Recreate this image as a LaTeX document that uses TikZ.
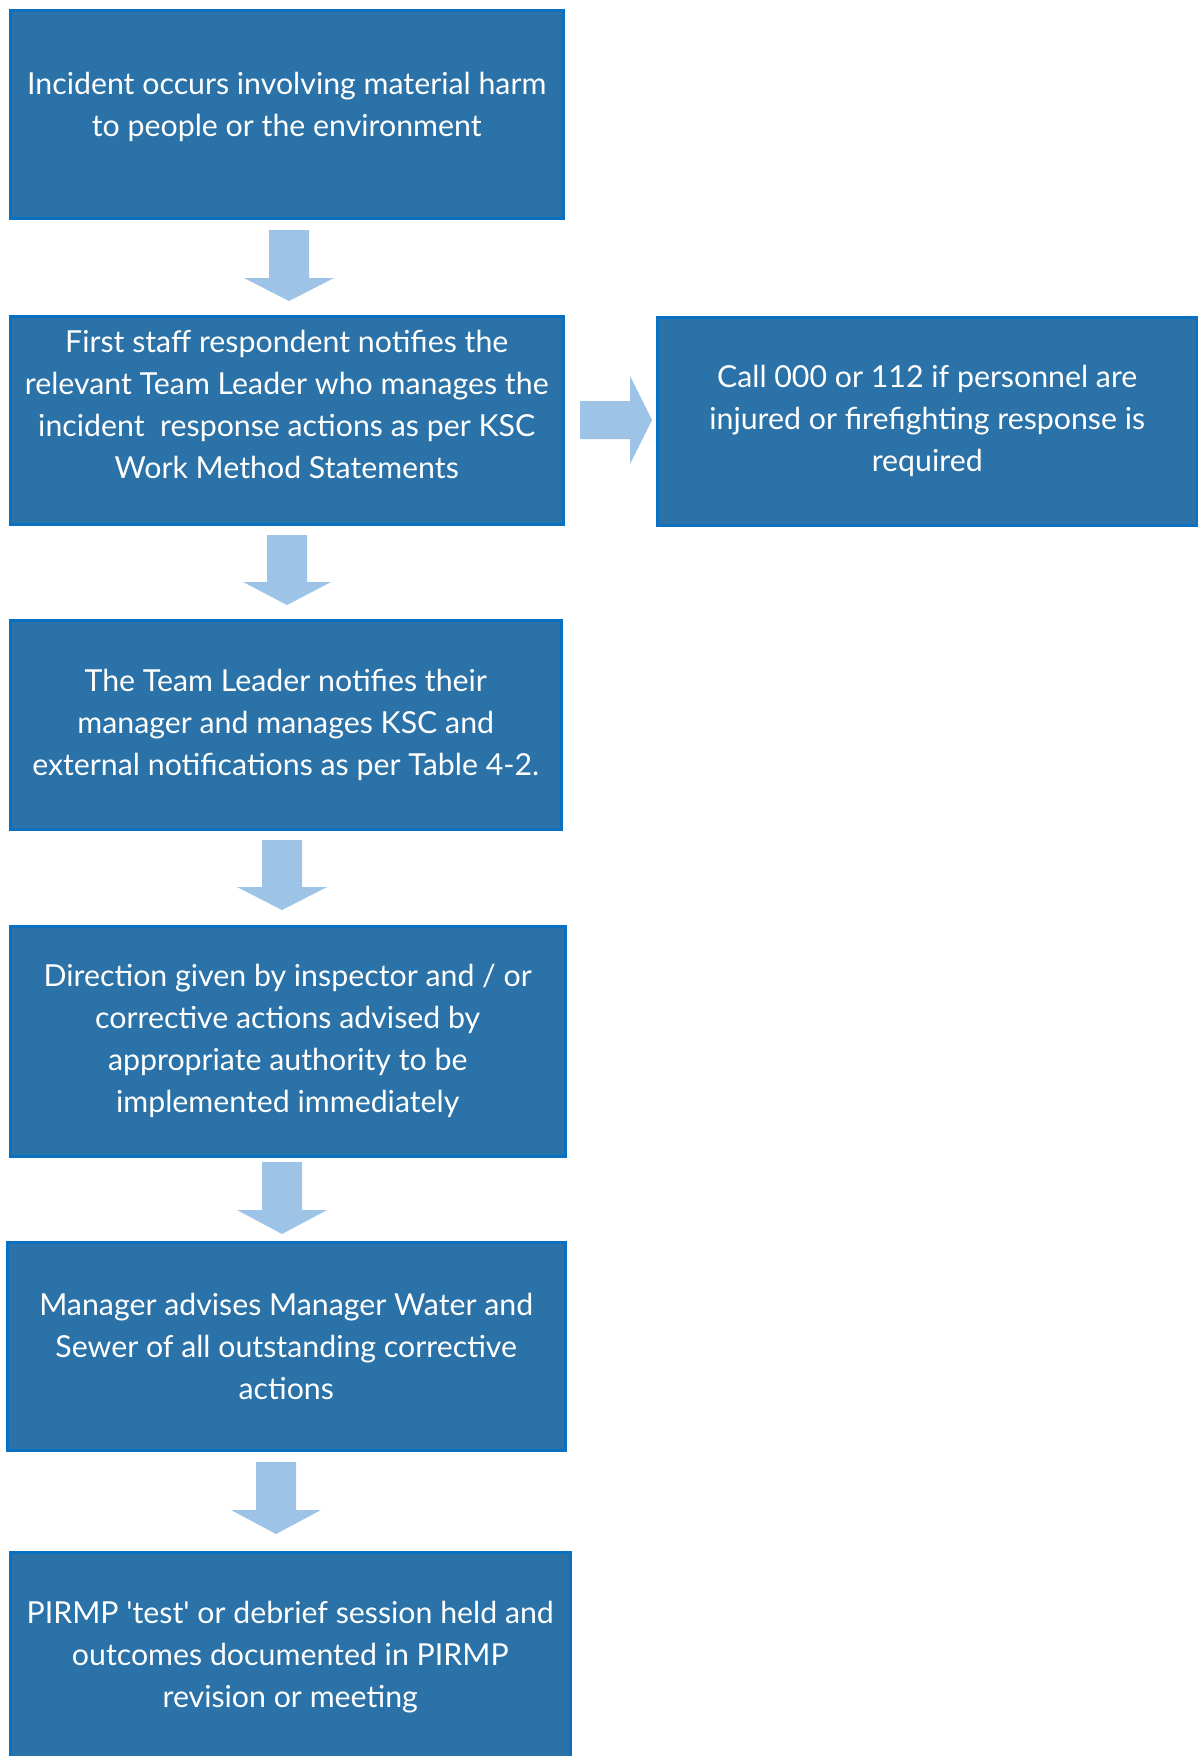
\documentclass[tikz,border=0pt]{standalone}
\usepackage{fontspec}
\setmainfont{Lato}
\definecolor{boxfill}{HTML}{2A72A7}
\definecolor{boxline}{HTML}{0A70C2}
\definecolor{arrowfill}{HTML}{9DC3E6}
\tikzset{
  box/.style={draw=boxline, fill=boxfill, line width=2.5pt, text=white, align=center,
    anchor=north west, inner sep=4pt,
    font={\fontsize{30.3}{42}\selectfont}},
  blockarrow/.style={fill=arrowfill, draw=none}
}
\begin{document}
\begin{tikzpicture}[x=1pt,y=-1pt]
\useasboundingbox (0,0) rectangle (1197,1756);
\node[box, minimum width=553pt, minimum height=208pt, text depth=20pt] (b1) at (9,9)
  {Incident occurs involving material harm\\to people or the environment};
\node[box, minimum width=553pt, minimum height=208pt, text depth=32pt] (b2) at (9,315)
  {First staff respondent notifies the\\relevant Team Leader who manages the\\incident\ \ response actions as per KSC\\Work Method Statements};
\node[box, minimum width=540pt, minimum height=208pt] (b3) at (656,316)
  {Call 000 or 112 if personnel are\\injured or firefighting response is\\required};
\node[box, minimum width=551pt, minimum height=209pt] (b4) at (9,619)
  {The Team Leader notifies their\\manager and manages KSC and\\external notifications as per Table 4-2.};
\node[box, minimum width=555pt, minimum height=230pt] (b5) at (9,925)
  {Direction given by inspector and / or\\corrective actions advised by\\appropriate authority to be\\implemented immediately};
\node[box, minimum width=558pt, minimum height=208pt] (b6) at (6,1241)
  {Manager advises Manager Water and\\Sewer of all outstanding corrective\\actions};
\node[box, minimum width=560pt, minimum height=210pt] (b7) at (9,1551)
  {PIRMP \textquotesingle test\textquotesingle{} or debrief session held and\\outcomes documented in PIRMP\\revision or meeting};
% block arrows (down)
\fill[blockarrow] (269,230) -- (309,230) -- (309,278) -- (334,278) -- (289,301) -- (244,278) -- (269,278) -- cycle;
\fill[blockarrow] (267,535) -- (307,535) -- (307,582) -- (331,582) -- (287,605) -- (243,582) -- (267,582) -- cycle;
\fill[blockarrow] (262,840) -- (302,840) -- (302,887) -- (327,887) -- (282,910) -- (237,887) -- (262,887) -- cycle;
\fill[blockarrow] (262,1162) -- (302,1162) -- (302,1210) -- (327,1210) -- (282,1234) -- (237,1210) -- (262,1210) -- cycle;
\fill[blockarrow] (256,1462) -- (296,1462) -- (296,1510) -- (321,1510) -- (276,1534) -- (231,1510) -- (256,1510) -- cycle;
% right arrow
\fill[blockarrow] (580,401) -- (630,401) -- (630,376) -- (652,420) -- (630,464) -- (630,439) -- (580,439) -- cycle;
\end{tikzpicture}
\end{document}
